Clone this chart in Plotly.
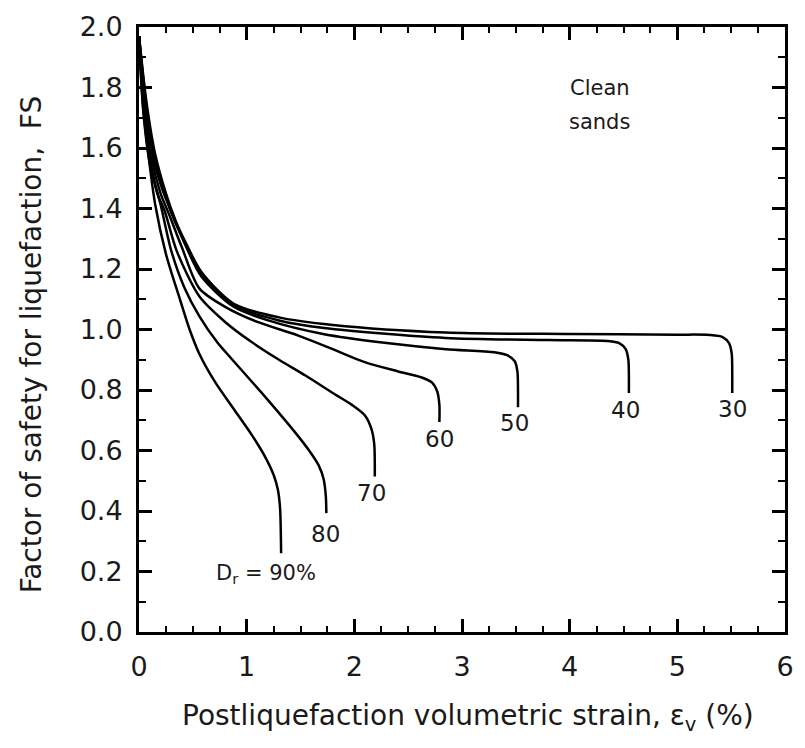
import plotly.graph_objects as go

# Relative density labels
dr_labels = ["30", "40", "50", "60", "70", "80", "D<sub>r</sub> = 90%"]

# Curves: postliquefaction volumetric strain (%) vs factor of safety
x30 = [0, 0.07, 0.15, 0.25, 0.34, 0.43, 0.58, 0.88, 1.3, 1.8, 2.85, 4.0, 5.0, 5.3, 5.42, 5.48, 5.505, 5.51, 5.51]
y30 = [1.97, 1.75, 1.58, 1.45, 1.36, 1.29, 1.19, 1.085, 1.04, 1.015, 0.99, 0.985, 0.983, 0.982, 0.975, 0.955, 0.92, 0.85, 0.79]

x40 = [0, 0.065, 0.14, 0.24, 0.33, 0.42, 0.57, 0.88, 1.3, 1.72, 2.85, 3.8, 4.35, 4.46, 4.52, 4.545, 4.55, 4.55]
y40 = [1.97, 1.75, 1.58, 1.45, 1.36, 1.29, 1.185, 1.08, 1.03, 1.005, 0.972, 0.965, 0.962, 0.955, 0.935, 0.9, 0.85, 0.79]

x50 = [0, 0.06, 0.13, 0.22, 0.31, 0.43, 0.58, 0.88, 1.2, 1.71, 2.3, 2.85, 3.3, 3.42, 3.49, 3.515, 3.52, 3.52]
y50 = [1.97, 1.75, 1.57, 1.46, 1.38, 1.28, 1.175, 1.075, 1.03, 0.985, 0.955, 0.935, 0.925, 0.915, 0.895, 0.86, 0.8, 0.743]

x60 = [0, 0.055, 0.12, 0.2, 0.28, 0.4, 0.56, 0.8, 1.1, 1.48, 1.8, 2.09, 2.4, 2.62, 2.72, 2.77, 2.79, 2.79]
y60 = [1.97, 1.74, 1.56, 1.45, 1.38, 1.27, 1.136, 1.075, 1.025, 0.98, 0.935, 0.893, 0.862, 0.842, 0.825, 0.795, 0.75, 0.694]

x70 = [0, 0.05, 0.11, 0.17, 0.24, 0.35, 0.56, 0.8, 1.04, 1.3, 1.55, 1.8, 1.98, 2.1, 2.16, 2.185, 2.19]
y70 = [1.97, 1.72, 1.55, 1.45, 1.39, 1.26, 1.11, 1.025, 0.96, 0.9, 0.847, 0.79, 0.75, 0.715, 0.67, 0.62, 0.514]

x80 = [0, 0.04, 0.1, 0.2, 0.3, 0.42, 0.56, 0.73, 0.81, 1.19, 1.45, 1.58, 1.67, 1.715, 1.735, 1.74]
y80 = [1.97, 1.72, 1.55, 1.414, 1.26, 1.14, 1.044, 0.956, 0.923, 0.77, 0.66, 0.6, 0.55, 0.505, 0.45, 0.393]

x90 = [0, 0.035, 0.08, 0.15, 0.25, 0.38, 0.47, 0.56, 0.7, 0.88, 1.05, 1.17, 1.25, 1.29, 1.31, 1.32]
y90 = [1.97, 1.75, 1.6, 1.414, 1.25, 1.10, 1.0, 0.92, 0.83, 0.737, 0.65, 0.58, 0.52, 0.47, 0.41, 0.26]

# Label positions (data coords)
label_x = [5.51, 4.52, 3.49, 2.79, 2.16, 1.73, 1.18]
label_y = [0.736, 0.733, 0.69, 0.638, 0.458, 0.324, 0.193]

x_ticks = [0, 1, 2, 3, 4, 5, 6]
y_ticks = [0.0, 0.2, 0.4, 0.6, 0.8, 1.0, 1.2, 1.4, 1.6, 1.8, 2.0]

FONT = "DejaVu Sans, Liberation Sans, Arial, sans-serif"
TXT = "#1a1a1a"

fig = go.Figure()
for xs, ys in [(x30, y30), (x40, y40), (x50, y50), (x60, y60), (x70, y70), (x80, y80), (x90, y90)]:
    fig.add_trace(go.Scatter(x=xs, y=ys, mode="lines",
                             line=dict(color="black", width=2.5, shape="spline", smoothing=0.8),
                             showlegend=False, hoverinfo="skip"))

for i, (lbl, lx, ly) in enumerate(zip(dr_labels, label_x, label_y)):
    fig.add_annotation(x=lx, y=ly, text=lbl, showarrow=False,
                       font=dict(family=FONT, size=21 if i == 6 else 23, color=TXT))

fig.add_annotation(x=4.28, y=1.80, text="Clean", showarrow=False,
                   font=dict(family=FONT, size=21, color=TXT))
fig.add_annotation(x=4.28, y=1.685, text="sands", showarrow=False,
                   font=dict(family=FONT, size=21, color=TXT))

# Axis titles (rotated / placed annotations for exact position)
fig.add_annotation(xref="paper", yref="paper", x=-0.1664, y=0.4746,
                   xanchor="center", yanchor="middle", textangle=-90,
                   text="Factor of safety for liquefaction,  FS", showarrow=False,
                   font=dict(family=FONT, size=28, color=TXT))
fig.add_annotation(xref="paper", yref="paper", x=0.51, y=-0.1408,
                   xanchor="center", yanchor="middle",
                   text="Postliquefaction volumetric strain, ε<sub>v</sub> (%)", showarrow=False,
                   font=dict(family=FONT, size=28, color=TXT))

fig.update_layout(
    width=805, height=748,
    margin=dict(l=139, r=11, t=21, b=116),
    paper_bgcolor="white", plot_bgcolor="white",
    font=dict(family=FONT, color=TXT),
    showlegend=False,
)
fig.update_xaxes(
    range=[0, 6], tickvals=x_ticks, ticktext=[str(v) for v in x_ticks],
    ticks="inside", ticklen=13, tickwidth=2.5, tickcolor="black",
    minor=dict(ticks="inside", ticklen=6, tickwidth=2, tickcolor="black", dtick=0.25),
    showline=True, linewidth=3, linecolor="black", mirror="ticks",
    showgrid=False, zeroline=False,
    tickfont=dict(family=FONT, size=27, color=TXT),
    ticklabelstandoff=9,
)
fig.update_yaxes(
    range=[0, 2.0], tickvals=y_ticks, ticktext=[f"{v:.1f}" for v in y_ticks],
    ticks="inside", ticklen=13, tickwidth=2.5, tickcolor="black",
    minor=dict(ticks="inside", ticklen=7, tickwidth=2, tickcolor="black", dtick=0.1),
    showline=True, linewidth=3, linecolor="black", mirror="ticks",
    showgrid=False, zeroline=False,
    tickfont=dict(family=FONT, size=27, color=TXT),
    ticklabelstandoff=8,
)

fig.write_html("out.html")
